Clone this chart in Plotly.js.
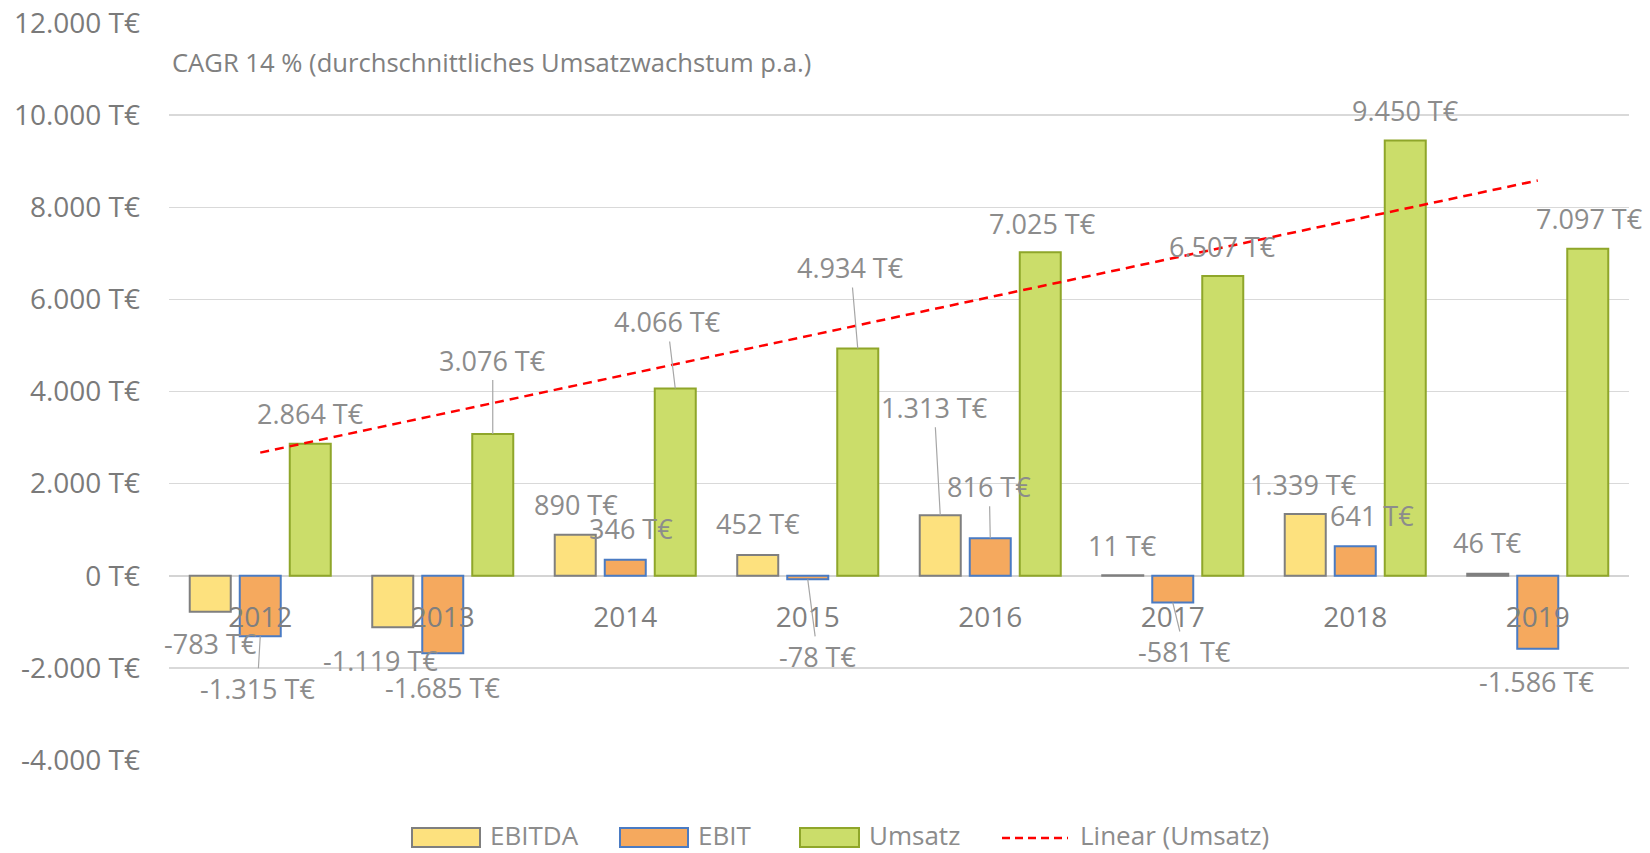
<!DOCTYPE html>
<html>
<head>
<meta charset="utf-8">
<script src="https://cdn.plot.ly/plotly-3.0.1.min.js"></script>
<style>
  html, body { margin: 0; padding: 0; background: #ffffff; }
  #chart { width: 1650px; height: 853px; }
</style>
</head>
<body>
<div id="chart"></div>
<script>
// ---------- data ----------
const years = ['2012', '2013', '2014', '2015', '2016', '2017', '2018', '2019'];
const ebitda = [-783, -1119, 890, 452, 1313, 11, 1339, 46];
const ebit = [-1315, -1685, 346, -78, 816, -581, 641, -1586];
const umsatz = [2864, 3076, 4066, 4934, 7025, 6507, 9450, 7097];
const yTickVals = [-4000, -2000, 0, 2000, 4000, 6000, 8000, 10000, 12000];
const yTickText = ['-4.000 T€', '-2.000 T€', '0 T€', '2.000 T€', '4.000 T€', '6.000 T€', '8.000 T€', '10.000 T€', '12.000 T€'];
const seriesNames = ['EBITDA', 'EBIT', 'Umsatz'];
const trendName = 'Linear (Umsatz)';
const cagrText = 'CAGR 14 % (durchschnittliches Umsatzwachstum p.a.)';

// ---------- styling / label placement (pixels) ----------
const FONT = '"Open Sans", "Noto Sans", sans-serif';
const colors = {
  ebitda: { fill: '#fde17e', line: '#7f7f7f' },
  ebit:   { fill: '#f5a95e', line: '#4a7bc3' },
  umsatz: { fill: '#cbdd6a', line: '#8fa62a' }
};
const slotShift = [-50, 0, 50];
const ebitdaOffsets = [[0, 32], [-12, 33], [1, -30], [0, -31], [-6, -108], [0, -30], [-2, -30], [0, -31]];
const ebitOffsets   = [[-3, 52], [0, 34], [6, -31], [10, 77], [-1, -52], [12, 49], [17, -31], [-1, 33]];
const umsatzOffsets = [[0, -30], [0, -74], [-8, -67], [-7, -81], [2, -29], [0, -30], [0, -30], [2, -30]];
const ebitdaLeader = [false, false, false, false, true, false, false, false];
const ebitLeader   = [true, false, false, true, true, true, false, false];
const umsatzLeader = [false, true, true, true, false, false, false, false];

// plot area in pixels
const PL = 169, PR = 1629, PT = 23, PB = 760;
const W = 1650, H = 853;
const px = x => (x - PL) / (PR - PL);
const py = y => (PB - y) / (PB - PT);

function fmt(v) {
  const s = Math.abs(v).toString().replace(/\B(?=(\d{3})+(?!\d))/g, '.');
  return (v < 0 ? '-' : '') + s + ' T€';
}

// linear trend (least squares) of Umsatz
const n = umsatz.length;
const xs = umsatz.map((_, i) => i + 1);
const mx = xs.reduce((a, b) => a + b, 0) / n;
const my = umsatz.reduce((a, b) => a + b, 0) / n;
let sxy = 0, sxx = 0;
for (let i = 0; i < n; i++) { sxy += (xs[i] - mx) * (umsatz[i] - my); sxx += (xs[i] - mx) ** 2; }
const slope = sxy / sxx;
const trendY = [my + slope * (1 - mx), my + slope * (n - mx)];
const trendX = [years[0], years[n - 1]];

const traces = [
  { type: 'bar', name: seriesNames[0], x: years, y: ebitda,
    marker: { color: colors.ebitda.fill, line: { color: colors.ebitda.line, width: 2 } }, hoverinfo: 'y' },
  { type: 'bar', name: seriesNames[1], x: years, y: ebit,
    marker: { color: colors.ebit.fill, line: { color: colors.ebit.line, width: 2 } }, hoverinfo: 'y' },
  { type: 'bar', name: seriesNames[2], x: years, y: umsatz,
    marker: { color: colors.umsatz.fill, line: { color: colors.umsatz.line, width: 2 } }, hoverinfo: 'y' },
  { type: 'scatter', mode: 'lines', name: trendName, x: trendX, y: trendY,
    line: { color: '#ff0000', width: 2.5, dash: '9px,6px' }, hoverinfo: 'skip' }
];

const annotations = [];
function addLabels(vals, offsets, leaders, shift) {
  vals.forEach((v, i) => {
    annotations.push({
      x: i, y: v, xref: 'x', yref: 'y', xshift: shift,
      text: fmt(v), showarrow: true, arrowhead: 0, arrowwidth: 1.2,
      arrowcolor: leaders[i] ? '#a6a6a6' : 'rgba(0,0,0,0)',
      ax: offsets[i][0], ay: offsets[i][1], standoff: 0,
      font: { family: FONT, size: 27, color: '#8c8c8c' }
    });
  });
}
addLabels(ebitda, ebitdaOffsets, ebitdaLeader, slotShift[0]);
addLabels(ebit, ebitOffsets, ebitLeader, slotShift[1]);
addLabels(umsatz, umsatzOffsets, umsatzLeader, slotShift[2]);

annotations.push({
  xref: 'paper', yref: 'paper', x: px(170), y: py(63), xanchor: 'left', yanchor: 'middle',
  text: cagrText, showarrow: false, font: { family: FONT, size: 25.6, color: '#808080' }
});

// custom legend
const shapes = [];
const legendItems = [
  { label: seriesNames[0], kind: 'box', fill: colors.ebitda.fill, line: colors.ebitda.line, x0: 412, x1: 480, tx: 488 },
  { label: seriesNames[1], kind: 'box', fill: colors.ebit.fill, line: colors.ebit.line, x0: 620, x1: 688, tx: 696 },
  { label: seriesNames[2], kind: 'box', fill: colors.umsatz.fill, line: colors.umsatz.line, x0: 800, x1: 859, tx: 867 },
  { label: trendName, kind: 'dash', x0: 1002, x1: 1068, tx: 1078 }
];
legendItems.forEach(it => {
  if (it.kind === 'box') {
    shapes.push({ type: 'rect', xref: 'paper', yref: 'paper', x0: px(it.x0), x1: px(it.x1), y0: py(847), y1: py(828),
      fillcolor: it.fill, line: { color: it.line, width: 2 } });
  } else {
    shapes.push({ type: 'line', xref: 'paper', yref: 'paper', x0: px(it.x0), x1: px(it.x1), y0: py(838), y1: py(838),
      line: { color: '#ff0000', width: 2.5, dash: '8px,5px' } });
  }
  annotations.push({ xref: 'paper', yref: 'paper', x: px(it.tx), y: py(835), xanchor: 'left', yanchor: 'middle',
    text: it.label, showarrow: false, font: { family: FONT, size: 26, color: '#8c8c8c' } });
});

const layout = {
  width: W, height: H,
  margin: { l: PL, r: W - PR, t: PT, b: H - PB, pad: 0 },
  paper_bgcolor: '#ffffff', plot_bgcolor: 'rgba(0,0,0,0)',
  showlegend: false,
  barmode: 'group', bargap: 0.178, bargroupgap: 0.18,
  font: { family: FONT, color: '#7f7f7f' },
  xaxis: {
    type: 'category', range: [-0.5, 7.5], autorange: false,
    anchor: 'free', position: py(576), showgrid: false, showline: false, zeroline: false,
    ticks: '', ticklabelstandoff: 22, tickfont: { family: FONT, size: 28, color: '#7f7f7f' },
    fixedrange: true
  },
  yaxis: {
    range: [-4000, 12000], autorange: false, tickvals: yTickVals, ticktext: yTickText,
    showgrid: true, gridcolor: '#d9d9d9', gridwidth: 1.5,
    zeroline: true, zerolinecolor: '#d4d4d4', zerolinewidth: 2,
    showline: false, ticks: '', ticklabelstandoff: 28,
    tickfont: { family: FONT, size: 28, color: '#7a7a7a' }, fixedrange: true
  },
  annotations: annotations,
  shapes: shapes
};

Plotly.newPlot('chart', traces, layout, { displayModeBar: false, staticPlot: true });
</script>
</body>
</html>
